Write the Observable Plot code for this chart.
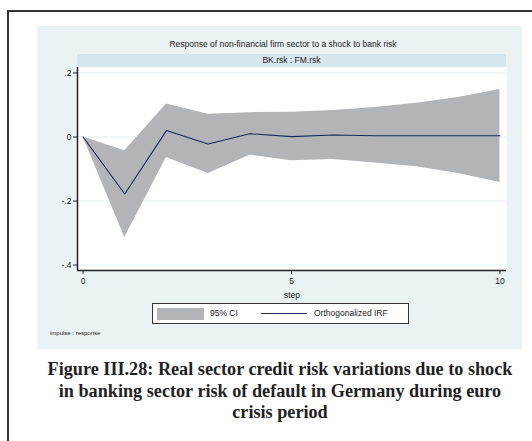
<!DOCTYPE html>
<html><head><meta charset="utf-8">
<script src="https://cdn.jsdelivr.net/npm/d3@7"></script>
<script src="https://cdn.jsdelivr.net/npm/@observablehq/plot@0.6"></script>
<style>
body{margin:0;background:#fff;}
#page{position:relative;width:532px;height:441px;overflow:hidden;font-family:"Liberation Sans",Arial,sans-serif;color:#222;}
#frame{position:absolute;left:7px;top:10px;width:560px;height:480px;border:2px solid #333;box-sizing:border-box;}
#panel{position:absolute;left:37px;top:26px;width:485px;height:323px;background:#eaf2f3;}
#title{position:absolute;left:283px;top:39px;transform:translateX(-50%);white-space:nowrap;font-size:8.5px;}
#strip{position:absolute;left:77px;top:54px;width:429px;height:13px;background:#d7e6ec;font-size:8.5px;text-align:center;line-height:13px;}
#chart{position:absolute;left:0;top:0;}
#legend{position:absolute;left:152px;top:303px;width:257px;height:21px;background:#fff;border:1px solid #333;box-sizing:border-box;font-size:8.5px;}
#legend .sw{position:absolute;left:4px;top:4px;width:47px;height:12px;background:#b3b4b8;}
#legend .t1{position:absolute;left:57px;top:0;line-height:19px;}
#legend .ln{position:absolute;left:108px;top:9px;width:46px;height:0;border-top:1.2px solid #1b2a55;}
#legend .t2{position:absolute;left:161px;top:0;line-height:19px;}
#note{position:absolute;left:50px;top:330px;font-size:6px;}
#caption{position:absolute;left:280px;top:359px;transform:translateX(-50%);white-space:nowrap;text-align:center;font-family:"Liberation Serif","Times New Roman",serif;font-weight:bold;font-size:18.2px;line-height:21.5px;color:#222;}
</style></head>
<body>
<div id="page">
  <div id="frame"></div>
  <div id="panel"></div>
  <div id="title">Response of non-financial firm sector to a shock to bank risk</div>
  <div id="strip">BK.rsk : FM.rsk</div>
  <div id="chart"></div>
  <div id="legend"><div class="sw"></div><div class="t1">95% CI</div><div class="ln"></div><div class="t2">Orthogonalized IRF</div></div>
  <div id="note">impulse : response</div>
  <div id="caption">Figure III.28: Real sector credit risk variations due to shock<br>in banking sector risk of default in Germany during euro<br>crisis period</div>
</div>
<script>
const steps = [0, 1, 2, 3, 4, 5, 6, 7, 8, 9, 10];
const irf = [0, -0.178, 0.020, -0.022, 0.010, 0.001, 0.006, 0.004, 0.004, 0.004, 0.004];
const lower = [0, -0.314, -0.064, -0.114, -0.057, -0.074, -0.070, -0.081, -0.093, -0.114, -0.142];
const upper = [0, -0.043, 0.103, 0.071, 0.076, 0.077, 0.083, 0.092, 0.105, 0.123, 0.148];
const yTicks = [-0.4, -0.2, 0, 0.2];
const yTickLabels = ["-.4", "-.2", "0", ".2"];
const xTicks = [0, 5, 10];

const data = steps.map((s, i) => ({step: s, irf: irf[i], lower: lower[i], upper: upper[i]}));
const xDomain = [-0.134, 10.158];
const yDomain = [-0.417, 0.217];

const chart = Plot.plot({
  width: 532,
  height: 310,
  marginLeft: 77,
  marginRight: 26,
  marginTop: 67,
  marginBottom: 40,
  style: {background: "transparent", fontFamily: "Liberation Sans, Arial, sans-serif", fontSize: "8.5px", color: "#222"},
  x: {domain: xDomain},
  y: {domain: yDomain},
  marks: [
    Plot.frame({fill: "white", stroke: "none"}),
    Plot.ruleY(yTicks, {stroke: "#e2eef0", strokeWidth: 1}),
    Plot.areaY(data, {x: "step", y1: "lower", y2: "upper", fill: "#b3b4b8"}),
    Plot.lineY(data, {x: "step", y: "irf", stroke: "#1b2a55", strokeWidth: 1.1}),
    Plot.ruleX([xDomain[0]], {stroke: "#222", strokeWidth: 1.5}),
    Plot.ruleY([yDomain[0]], {stroke: "#222", strokeWidth: 1.5}),
    Plot.axisY({ticks: yTicks, tickFormat: d => yTickLabels[yTicks.indexOf(d)], tickSize: 4, tickPadding: 2, label: null, fontSize: 8.5}),
    Plot.axisX({ticks: xTicks, tickFormat: d => String(d), tickSize: 4, tickPadding: 3, label: "step", labelAnchor: "center", labelArrow: "none", labelOffset: 27, fontSize: 8.5})
  ]
});
document.getElementById("chart").appendChild(chart);
</script>
</body></html>
